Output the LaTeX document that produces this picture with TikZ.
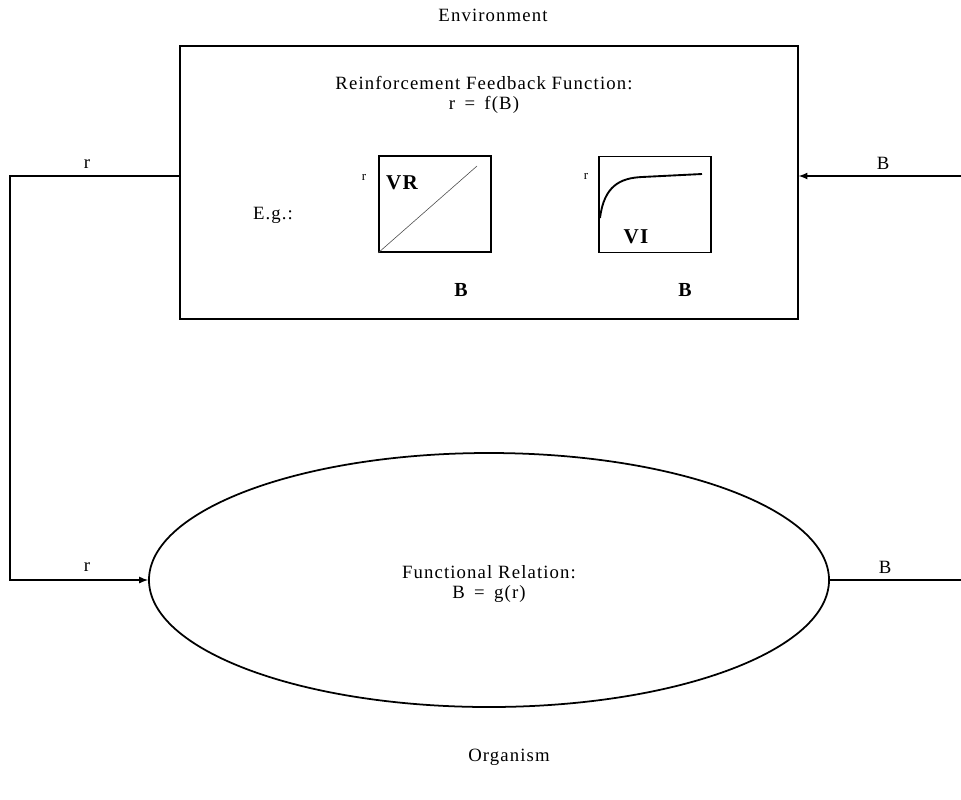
\documentclass[tikz,border=0pt]{standalone}
\usepackage{fontspec}
\setmainfont{Liberation Serif}[LetterSpace=6]
\usetikzlibrary{shapes.geometric}
\tikzset{
  lbl/.style={font=\fontsize{16}{17}\selectfont, inner sep=0pt},
  tinylbl/.style={font=\fontsize{11}{12}\selectfont, inner sep=0pt},
  plotlbl/.style={font=\fontsize{18}{19}\selectfont\bfseries, inner sep=0pt},
  wire/.style={line width=1.6pt},
  envbox/.style={draw, line width=0.9pt, minimum width=18.54cm, minimum height=8.19cm, inner sep=0pt},
  plotbox/.style={draw, line width=1.5pt, minimum width=3.36cm, minimum height=2.88cm, inner sep=0pt},
}
\begin{document}
\begin{tikzpicture}[x=0.03cm, y=-0.03cm]
  \useasboundingbox (0,0) rectangle (961,799);
  % environment side
  \node[lbl] (envtitle) at (493,15) {Environment};
  \node[envbox] (env) at (489,182.5) {};
  \node[lbl, align=center] (rff) at (484,95) {Reinforcement Feedback Function:\\ r\enspace=\enspace f(B)};
  \node[lbl] (eg) at (273,215) {E.g.:};
  % the two schedules
  \node[plotbox] (vr) at (435,204) {};
  \node[plotbox] (vi) at (655,204.5) {};
  \draw[line width=0.5pt, black!70] (vr.south west) -- (477,166);
  \draw[line width=1.6pt] (600,218) .. controls (604,186) and (620,178) .. (642,177) -- (702,174);
  \node[plotlbl] (vrname) at (402,183) {VR};
  \node[plotlbl] (viname) at (636,237) {VI};
  \node[tinylbl] (vrr) at (364,177) {r};
  \node[tinylbl] (vir) at (586,176) {r};
  \node[plotlbl, font=\fontsize{17}{18}\selectfont\bfseries] (vrb) at (461,290) {B};
  \node[plotlbl, font=\fontsize{17}{18}\selectfont\bfseries] (vib) at (685,290) {B};
  % organism side
  \node[ellipse, draw, line width=1.5pt, minimum width=20.4cm, minimum height=7.62cm, inner sep=0pt] (org) at (489,580) {};
  \node[lbl, align=center] (orgtext) at (489,584) {Functional Relation:\\ B\enspace=\enspace g(r)};
  \node[lbl] (orgtitle) at (509,757) {Organism};
  % loop
  \coordinate (lt) at (10,176);
  \coordinate (lb) at (10,580);
  \coordinate (rt) at (961,176);
  \coordinate (rb) at (961,580);
  \draw[wire, -latex] (env.west |- lt) -- (lt) -- (lb) -- (org.west);
  \draw[wire, -latex] (rt) -- (env.east |- rt);
  \draw[wire] (org.east) -- (rb);
  \node[lbl] (rtop) at (87,164) {r};
  \node[lbl] (rbot) at (87,567) {r};
  \node[lbl] (btop) at (883,163) {B};
  \node[lbl] (bbot) at (885,567) {B};
\end{tikzpicture}
\end{document}
